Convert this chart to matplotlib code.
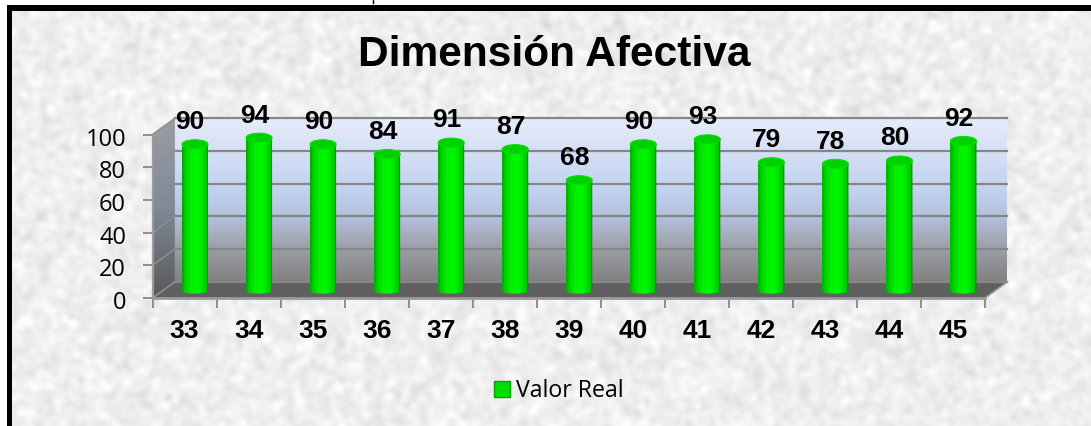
import numpy as np
import matplotlib
matplotlib.use('Agg')
import matplotlib.pyplot as plt
from matplotlib.colors import LinearSegmentedColormap
from matplotlib.patches import Ellipse, Patch
from matplotlib.path import Path
from matplotlib.transforms import ScaledTranslation

categories = ['33', '34', '35', '36', '37', '38', '39', '40', '41', '42', '43', '44', '45']
values = [90, 94, 90, 84, 91, 87, 68, 90, 93, 79, 78, 80, 92]
y_ticks = [0, 20, 40, 60, 80, 100]
title = 'Dimensión Afectiva'
series_name = 'Valor Real'

W, H = 1091, 426
fig = plt.figure(figsize=(W / 100, H / 100), dpi=100, facecolor='white')

# paper texture behind the chart (decoration only, not data)
bg = fig.add_axes([0, 0, 1, 1], zorder=0)
rng = np.random.default_rng(5)
noise = rng.normal(size=(H, W))
fx = np.fft.fftfreq(W)[None, :]
fy = np.fft.fftfreq(H)[:, None]
smooth = np.fft.ifft2(np.fft.fft2(noise) * np.exp(-(fx**2 + fy**2) * 2 * (np.pi * 3.0)**2)).real
smooth = smooth / smooth.std()
tex = np.clip(238 + 5 * smooth, 215, 252)
bg.imshow(tex, cmap='gray', vmin=0, vmax=255, extent=[0, W, H, 0], aspect='auto')
bg.set_xlim(0, W)
bg.set_ylim(H, 0)
bg.axis('off')
# white strip outside the frame, black frame on top and left only
bg.fill_between([0, W], 0, 5, color='white', lw=0)
bg.fill_between([0, 7], 0, H, color='white', lw=0)
bg.fill_between([7, W], 5, 11, color='black', lw=0)
bg.fill_between([7, 12], 5, H, color='black', lw=0)
bg.plot([372.5, 372.5], [0, 3], color='black', lw=1)

# front plane of the 3d box
ax = fig.add_axes([152.5 / W, (H - 298) / H, 832.5 / W, 163.5 / H], zorder=1)
ax.patch.set_alpha(0)
n = len(categories)
dx, dy = 0.35, 9.9
base = 4.0
bar_w = 26 / 64
bar_off = 0.664
top = y_ticks[-1]


def grad_fill(verts, colors, horizontal=False, z=1):
    xs = [p[0] for p in verts]
    ys = [p[1] for p in verts]
    cm = LinearSegmentedColormap.from_list('g', colors)
    g = np.linspace(0, 1, 256)
    g = g[None, :] if horizontal else g[:, None]
    im = ax.imshow(g, cmap=cm, extent=[min(xs), max(xs), min(ys), max(ys)], origin='lower',
                   aspect='auto', zorder=z, interpolation='bilinear', vmin=0, vmax=1)
    im.set_clip_box(fig.bbox)
    im.set_clip_path(Path(list(verts) + [verts[0]]), ax.transData)
    return im


# back wall, side wall, floor
grad_fill([(dx, dy), (n + dx, dy), (n + dx, top + dy), (dx, top + dy)],
          [(0.0, '#808080'), (0.2, '#9c9ea6'), (0.4, '#b4c0dc'), (0.55, '#c0d1ef'), (1.0, '#e6ecf9')])
grad_fill([(0, 0), (dx, dy), (dx, top + dy), (0, top)],
          [(0.0, '#585858'), (0.5, '#7f8998'), (1.0, '#9a9da3')])
ax.fill([0, n, n + dx, dx], [0, 0, dy, dy], color='#606060', lw=0, zorder=1.5, clip_on=False)

for t in y_ticks:
    ax.plot([dx, n + dx], [t + dy, t + dy], color='#868686', lw=1.6, zorder=2, clip_on=False)
    ax.plot([0, dx], [t, t + dy], color='#8e8e8e', lw=1.2, zorder=2, clip_on=False)
ax.plot([n, n + dx], [0, dy], color='#999999', lw=1.2, zorder=2, clip_on=False)
ax.plot([0, n], [0, 0], color='#9a9a9a', lw=2, zorder=2.5, clip_on=False)
ax.plot([0, 0], [0, top], color='#9a9a9a', lw=1.6, zorder=2.5, clip_on=False)

# cylinders
x = np.arange(n) + bar_off
bars = ax.bar(x, values, width=bar_w, bottom=base, color='#00e000', zorder=3, clip_on=False)
theta = np.linspace(np.pi, 2 * np.pi, 30)
green = [(0.0, '#009a00'), (0.1, '#00cc00'), (0.35, '#00f000'), (0.6, '#00f800'), (0.9, '#00c800'), (1.0, '#008000')]
for b, cx, v in zip(bars, x, values):
    arc = [(cx + bar_w / 2 * np.cos(a), base + 1.3 * np.sin(a)) for a in theta]
    grad_fill(arc + [(cx + bar_w / 2, base + v), (cx - bar_w / 2, base + v)], green, horizontal=True, z=3.1)
    ax.add_patch(Ellipse((cx, base + v), bar_w, 5.6, facecolor='#00d000', edgecolor='#00e400',
                         lw=0.8, zorder=3.2, clip_on=False))
    ax.annotate(str(v), (cx - 0.075, v + 17.6), ha='center', va='center', fontsize=19,
                fontweight='bold', family='Liberation Sans', zorder=5, annotation_clip=False)

ax.set_xlim(0, n)
ax.set_ylim(0, top)
for s in ax.spines.values():
    s.set_visible(False)
ax.set_yticks(y_ticks)
ax.set_yticklabels([str(t) for t in y_ticks], fontsize=17, family='Open Sans')
ax.set_xticks(np.arange(n + 1))
ax.set_xticklabels([])
ax.set_xticks(np.arange(n) + 0.5, categories, minor=True, fontsize=19, fontweight='bold', family='Liberation Sans')
ax.tick_params(axis='y', length=7, width=1.3, color='#868686', pad=12)
ax.tick_params(axis='x', which='major', length=7, width=1.3, color='#868686')
ax.tick_params(axis='x', which='minor', length=0, pad=15)
for lab in ax.get_yticklabels():
    lab.set_transform(lab.get_transform() + ScaledTranslation(0, -0.02, fig.dpi_scale_trans))

fig.text(554 / W, 1 - 55 / H, title, ha='center', va='center', fontsize=30.6,
         fontweight='bold', family='Liberation Sans')

handle = Patch(facecolor='#00e000', edgecolor='#00a000', label=series_name)
fig.legend(handles=[handle], loc='center', bbox_to_anchor=(559 / W, 1 - 391 / H), frameon=False,
           prop={'family': 'Open Sans', 'size': 16.7}, handlelength=0.69, handleheight=0.69, handletextpad=0.25)

fig.savefig('out.png', dpi=100)
